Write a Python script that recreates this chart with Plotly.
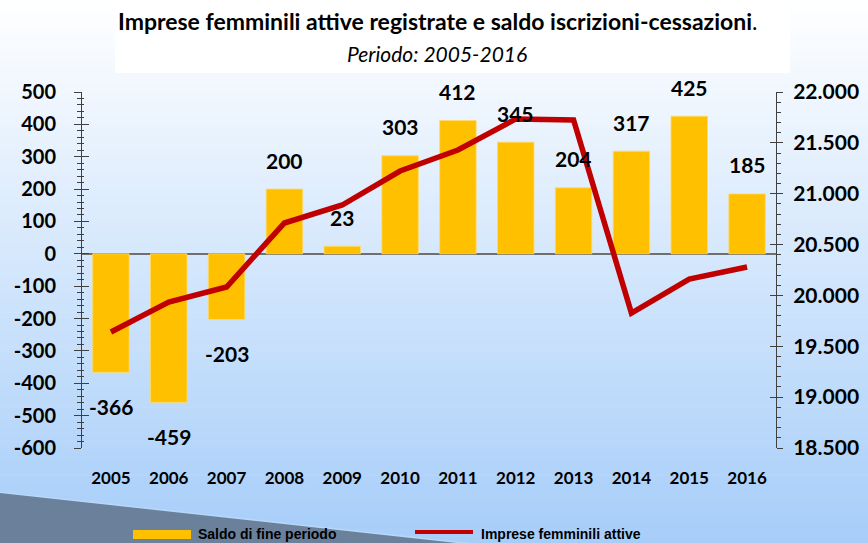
import plotly.graph_objects as go

years = [2005, 2006, 2007, 2008, 2009, 2010, 2011, 2012, 2013, 2014, 2015, 2016]
saldo = [-366, -459, -203, 200, 23, 303, 412, 345, 204, 317, 425, 185]
imprese = [19640, 19935, 20083, 20712, 20889, 21223, 21430, 21735, 21725, 19827, 20161, 20279]

left_ticks = [500, 400, 300, 200, 100, 0, -100, -200, -300, -400, -500, -600]
left_labels = ["500", "400", "300", "200", "100", "0", "-100", "-200", "-300", "-400", "-500", "-600"]
right_ticks = [22000, 21500, 21000, 20500, 20000, 19500, 19000, 18500]
right_labels = ["22.000", "21.500", "21.000", "20.500", "20.000", "19.500", "19.000", "18.500"]

title = "Imprese femminili attive registrate e saldo iscrizioni-cessazioni"
subtitle = "Periodo: 2005-2016"
legend_bar = "Saldo di fine periodo"
legend_line = "Imprese femminili attive"

BAR = "#FFC000"
LINE = "#C00000"
FONT = "Lato, Open Sans, sans-serif"
NARROW = "Liberation Sans Narrow, Arial Narrow, Liberation Sans, sans-serif"

# plot area in pixels
Lp, Rp, Tp, Bp = 82, 776, 92, 448
W, H = Rp - Lp, Bp - Tp
def px_x(px):
    return (px - Lp) / W
def px_y(py):
    return (Bp - py) / H

fig = go.Figure()
fig.add_trace(go.Bar(x=years, y=saldo, marker=dict(color=BAR, line=dict(color="#FFD966", width=0.8)),
                     width=0.63, name=legend_bar, showlegend=False, yaxis="y"))
fig.add_trace(go.Scatter(x=years, y=imprese, mode="lines", line=dict(color=LINE, width=5.5),
                         name=legend_line, showlegend=False, yaxis="y2"))
# invisible helpers so the overlay tick axes are drawn
fig.add_trace(go.Scatter(x=years, y=saldo, mode="lines", line=dict(width=0), opacity=0,
                         showlegend=False, hoverinfo="skip", yaxis="y3"))
fig.add_trace(go.Scatter(x=years, y=imprese, mode="lines", line=dict(width=0), opacity=0,
                         showlegend=False, hoverinfo="skip", yaxis="y4"))

shapes = []
# background gradient
n = 80
top_c = (255, 255, 255)
bot_c = (166, 205, 249)
for i in range(n):
    y0 = 543 * i / n
    y1 = 543 * (i + 1) / n + 0.6
    t = (i + 0.5) / n
    c = tuple(int(round(top_c[k] + (bot_c[k] - top_c[k]) * t)) for k in range(3))
    shapes.append(dict(type="rect", xref="paper", yref="paper", layer="below",
                       x0=px_x(-2), x1=px_x(870), y0=px_y(y1), y1=px_y(y0),
                       fillcolor="rgb(%d,%d,%d)" % c, line=dict(width=0)))
# decorative dark triangle bottom-left
shapes.append(dict(type="path", xref="paper", yref="paper", layer="below",
                   path="M %f,%f L %f,%f L %f,%f Z" % (px_x(-2), px_y(492), px_x(482), px_y(545), px_x(-2), px_y(545)),
                   fillcolor="#6B819B", line=dict(color="#B8D8FA", width=1.5)))
# white title box
shapes.append(dict(type="rect", xref="paper", yref="paper", layer="below",
                   x0=px_x(115), x1=px_x(790), y0=px_y(73), y1=px_y(-2),
                   fillcolor="white", line=dict(width=0)))
# legend symbols
shapes.append(dict(type="rect", xref="paper", yref="paper",
                   x0=px_x(133), x1=px_x(191), y0=px_y(539), y1=px_y(530),
                   fillcolor=BAR, line=dict(width=0)))
shapes.append(dict(type="line", xref="paper", yref="paper",
                   x0=px_x(415), x1=px_x(473), y0=px_y(532), y1=px_y(532),
                   line=dict(color=LINE, width=4)))

annotations = [
    dict(text="<b>" + title + "</b>.", x=px_x(437), y=px_y(21), xref="paper", yref="paper",
         showarrow=False, font=dict(family=FONT, size=23, color="black"), xanchor="center", yanchor="middle"),
    dict(text="<i>" + subtitle + "</i>", x=px_x(437), y=px_y(53), xref="paper", yref="paper",
         showarrow=False, font=dict(family=FONT, size=21, color="black"), xanchor="center", yanchor="middle"),
    dict(text="<b>" + legend_bar + "</b>", x=px_x(196), y=px_y(534), xref="paper", yref="paper",
         showarrow=False, font=dict(family=NARROW, size=14, color="black"), xanchor="left", yanchor="middle"),
    dict(text="<b>" + legend_line + "</b>", x=px_x(479), y=px_y(534), xref="paper", yref="paper",
         showarrow=False, font=dict(family=NARROW, size=14, color="black"), xanchor="left", yanchor="middle"),
]
for yr, v in zip(years, saldo):
    annotations.append(dict(text="<b>%d</b>" % v if v >= 0 else "<b>-%d</b>" % (-v),
                            x=yr, y=v, xref="x", yref="y", showarrow=False,
                            yshift=29 if v >= 0 else -34,
                            font=dict(family=FONT, size=21, color="black"),
                            xanchor="center", yanchor="middle"))

axis_col = "#404040"
fig.update_layout(
    width=868, height=543,
    margin=dict(l=Lp, r=868 - Rp, t=Tp, b=543 - Bp, autoexpand=False),
    paper_bgcolor="white", plot_bgcolor="rgba(0,0,0,0)",
    showlegend=False,
    shapes=shapes, annotations=annotations,
    xaxis=dict(range=[min(years) - 0.5, max(years) + 0.5], tickvals=years,
               ticktext=["<b>%d</b>" % y for y in years], automargin=False,
               showline=False, showgrid=False, zeroline=False, ticks="",
               tickfont=dict(family=FONT, size=17, color="black"),
               ticklabelstandoff=18),
    yaxis=dict(range=[-600, 500], tickvals=left_ticks, ticktext=["<b>%s</b>" % t for t in left_labels],
               automargin=False,
               showgrid=False, zeroline=True, zerolinecolor="#707070", zerolinewidth=1.5,
               showline=True, linecolor=axis_col, linewidth=1,
               ticks="outside", ticklen=7, tickcolor=axis_col, tickwidth=1,
               minor=dict(dtick=20, ticks="outside", ticklen=4, tickcolor=axis_col, tickwidth=1),
               tickfont=dict(family=FONT, size=20, color="black"), ticklabelstandoff=14),
    yaxis3=dict(range=[-600, 500], overlaying="y", side="left", anchor="x", automargin=False,
                tickvals=left_ticks, showticklabels=False, showgrid=False, zeroline=False,
                showline=False, ticks="inside", ticklen=7, tickcolor=axis_col, tickwidth=1,
                minor=dict(dtick=20, ticks="inside", ticklen=2, tickcolor=axis_col, tickwidth=1)),
    yaxis2=dict(range=[18500, 22000], overlaying="y", side="right", anchor="x", automargin=False,
                tickvals=right_ticks, ticktext=["<b>%s</b>" % t for t in right_labels],
                showgrid=False, zeroline=False, showline=True, linecolor=axis_col, linewidth=1,
                ticks="outside", ticklen=6, tickcolor=axis_col, tickwidth=1,
                minor=dict(dtick=100, ticks="outside", ticklen=4, tickcolor=axis_col, tickwidth=1),
                tickfont=dict(family=FONT, size=21, color="black"), ticklabelstandoff=6),
    yaxis4=dict(range=[18500, 22000], overlaying="y", side="right", anchor="x", automargin=False,
                tickvals=right_ticks, showticklabels=False, showgrid=False, zeroline=False,
                showline=False, ticks="inside", ticklen=6, tickcolor=axis_col, tickwidth=1),
)

fig.write_html("out.html", config={"displayModeBar": False},
               post_script="document.body.style.margin='0px';document.body.style.overflow='hidden';")
